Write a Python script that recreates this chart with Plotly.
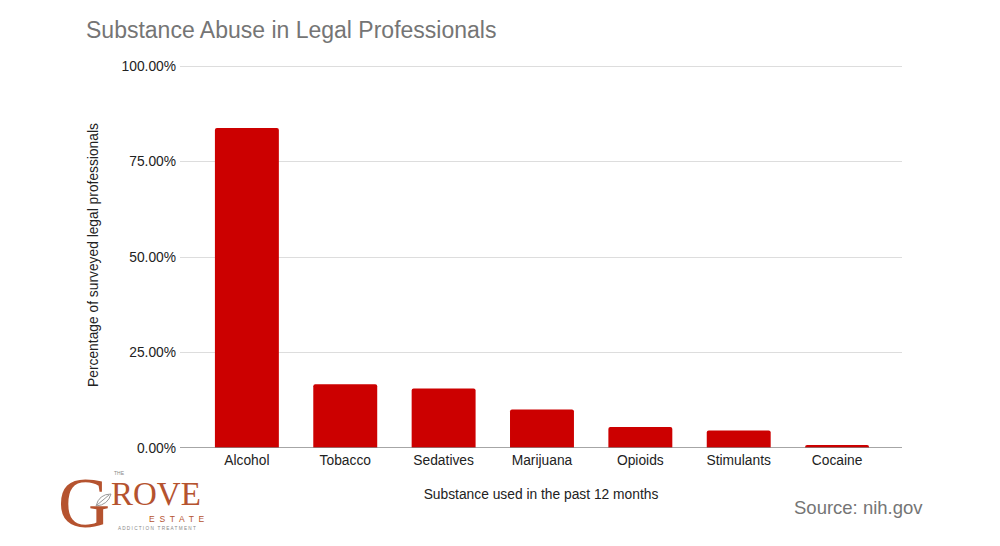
import plotly.graph_objects as go

categories = ["Alcohol", "Tobacco", "Sedatives", "Marijuana", "Opioids", "Stimulants", "Cocaine"]
values = [0.838, 0.167, 0.156, 0.101, 0.055, 0.046, 0.008]
y_ticks = [0, 0.25, 0.5, 0.75, 1.0]
y_tick_labels = ["0.00%", "25.00%", "50.00%", "75.00%", "100.00%"]

FONT = "Liberation Sans, Arial, sans-serif"
SERIF = "Liberation Serif, DejaVu Serif, serif"
LOGO = "#b5532f"

OFF = 8  # page body margin offset
plot_l, plot_r, plot_t, plot_b = 180 - OFF, 902 - OFF, 62 - OFF, 448 - OFF
W, H = 1000, 546
y_top = 1 + 4 / 382

fig = go.Figure()
fig.add_trace(go.Bar(
    x=categories, y=values,
    marker=dict(color="#cc0000", line=dict(width=0), cornerradius=2),
    width=0.65,
    hovertemplate="%{x}: %{y:.2%}<extra></extra>",
))

fig.update_layout(
    width=W, height=H,
    margin=dict(l=plot_l, r=W - plot_r, t=plot_t, b=H - plot_b),
    paper_bgcolor="white", plot_bgcolor="white",
    font=dict(family=FONT, color="#222222", size=13.8),
    showlegend=False,
    xaxis=dict(range=[-0.68, 6.66], showgrid=False, showline=False, zeroline=False,
               tickfont=dict(size=13.8, color="#222"), ticks="", ticklabelstandoff=2,
               title=dict(text="Substance used in the past 12 months", standoff=22,
                          font=dict(size=13.8, color="#222"))),
    yaxis=dict(range=[0, y_top], tickvals=y_ticks, ticktext=y_tick_labels,
               showgrid=True, gridcolor="#dddddd", gridwidth=1,
               zeroline=False, showline=False, ticks="", ticklabelstandoff=3,
               tickfont=dict(size=13.8, color="#222"),
               title=dict(text="Percentage of surveyed legal professionals", standoff=19,
                          font=dict(size=13.8, color="#222"))),
    shapes=[dict(type="line", xref="paper", yref="y", x0=0, x1=1, y0=0, y1=0,
                 line=dict(color="#888888", width=1.5))],
)


def px(x):
    return (x - OFF - plot_l) / (plot_r - plot_l)


def py(y):
    return (plot_b - (y - OFF)) / (plot_b - plot_t)


anns = [
    dict(text="Substance Abuse in Legal Professionals", x=84, y=30,
         font=dict(size=23, color="#757575", family=FONT), xanchor="left"),
    dict(text="Source: nih.gov", x=925, y=507, font=dict(size=18.5, color="#757575", family=FONT),
         xanchor="right"),
    dict(text="G", x=84, y=503, font=dict(size=72, color=LOGO, family=SERIF), xanchor="center"),
    dict(text="ROVE", x=156, y=494, font=dict(size=33, color=LOGO, family=SERIF), xanchor="center"),
    dict(text="THE", x=119, y=473, font=dict(size=5, color="#888", family=FONT), xanchor="center"),
    dict(text="E  S  T  A  T  E", x=176, y=519, font=dict(size=8.5, color=LOGO, family=FONT),
         xanchor="center"),
    dict(text="A D D I C T I O N   T R E A T M E N T", x=157, y=528,
         font=dict(size=4.7, color="#888", family=FONT), xanchor="center"),
]
fig.layout.annotations = [
    dict(text=a["text"], x=px(a["x"]), y=py(a["y"]), xref="paper", yref="paper",
         xanchor=a["xanchor"], yanchor="middle", showarrow=False, font=a["font"])
    for a in anns
]

# leaf mark in logo
fig.add_shape(type="path", xref="paper", yref="paper",
              path="M {:.4f},{:.4f} Q {:.4f},{:.4f} {:.4f},{:.4f} Q {:.4f},{:.4f} {:.4f},{:.4f} Z".format(
                  px(96), py(506), px(99), py(494), px(111), py(494),
                  px(108), py(505), px(96), py(506)),
              line=dict(color="#999999", width=1), fillcolor="rgba(0,0,0,0)")
fig.add_shape(type="line", xref="paper", yref="paper",
              x0=px(97), y0=py(505), x1=px(109), y1=py(495),
              line=dict(color="#999999", width=1))

fig.write_html("out.html")
